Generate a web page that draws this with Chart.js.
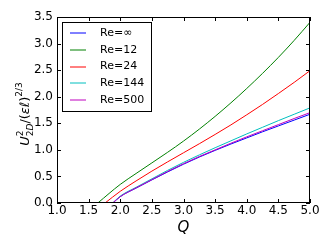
<!DOCTYPE html>
<html>
<head>
<meta charset="utf-8">
<script src="https://cdn.jsdelivr.net/npm/chart.js@4.4.0/dist/chart.umd.min.js"></script>
<style>
  html, body { margin: 0; padding: 0; background: #fff; }
  #wrap { width: 332px; height: 249px; position: relative; }
</style>
</head>
<body>
<div id="wrap"><canvas id="u2d__chart"></canvas></div>
<script>
// Reynolds numbers shown in the legend
const reLabels = ['Re=\u221e', 'Re=12', 'Re=24', 'Re=144', 'Re=500'];
const reColors = ['#0000ff', '#008000', '#ff0000', '#00bfbf', '#bf00bf'];

// Q where each curve leaves zero, then a common Q grid
const qStart = [1.885, 1.645, 1.76, 1.88, 1.88];
const qGrid = [2.0, 2.25, 2.5, 2.75, 3.0, 3.25, 3.5, 3.75, 4.0, 4.25, 4.5, 4.75, 5.0];

// U^2_2D / (eps l)^(2/3) at qGrid
const uInf = [0.12, 0.28, 0.435, 0.585, 0.73, 0.865, 0.99, 1.11, 1.225, 1.34, 1.45, 1.56, 1.67];
const u12 = [0.35, 0.555, 0.755, 0.955, 1.165, 1.39, 1.63, 1.885, 2.155, 2.44, 2.74, 3.06, 3.40];
const u24 = [0.22, 0.415, 0.60, 0.775, 0.945, 1.115, 1.29, 1.47, 1.66, 1.855, 2.06, 2.27, 2.49];
const u144 = [0.13, 0.295, 0.455, 0.615, 0.765, 0.905, 1.04, 1.17, 1.30, 1.425, 1.55, 1.67, 1.79];
const u500 = [0.12, 0.285, 0.44, 0.595, 0.74, 0.875, 1.00, 1.125, 1.245, 1.36, 1.475, 1.59, 1.70];

const seriesValues = [uInf, u12, u24, u144, u500];

const xTicks = [1.0, 1.5, 2.0, 2.5, 3.0, 3.5, 4.0, 4.5, 5.0];
const yTicks = [0.0, 0.5, 1.0, 1.5, 2.0, 2.5, 3.0, 3.5];

function buildPoints(i) {
  const pts = [{ x: qStart[i], y: 0 }];
  qGrid.forEach((q, k) => pts.push({ x: q, y: seriesValues[i][k] }));
  return pts;
}

// frame, inward ticks, legend box and axis labels, matplotlib style
const framePlugin = {
  id: 'frame',
  afterDraw(chart) {
    const c = chart.ctx;
    const a = chart.chartArea;
    const scales = chart.scales;
    c.save();
    c.strokeStyle = '#000';
    c.lineWidth = 1;
    c.strokeRect(a.left + 0.5, a.top + 0.5, a.right - a.left - 1, a.bottom - a.top - 1);

    c.beginPath();
    xTicks.forEach(v => {
      const px = Math.round(scales.x.getPixelForValue(v)) + 0.5;
      c.moveTo(px, a.bottom); c.lineTo(px, a.bottom - 4);
      c.moveTo(px, a.top); c.lineTo(px, a.top + 4);
    });
    yTicks.forEach(v => {
      const py = Math.round(scales.y.getPixelForValue(v)) + 0.5;
      c.moveTo(a.left, py); c.lineTo(a.left + 4, py);
      c.moveTo(a.right, py); c.lineTo(a.right - 4, py);
    });
    c.stroke();

    // legend
    const lx = a.left + 5, ly = a.top + 5, lw = 89, lh = 89;
    c.fillStyle = '#fff';
    c.fillRect(lx, ly, lw, lh);
    c.strokeStyle = '#000';
    c.strokeRect(lx + 0.5, ly + 0.5, lw, lh);
    c.font = '11px "DejaVu Sans"';
    c.textBaseline = 'middle';
    for (let i = 0; i < reLabels.length; i++) {
      const ry = ly + 11 + i * 16.8;
      c.beginPath();
      c.strokeStyle = reColors[i];
      c.lineWidth = 1;
      c.moveTo(lx + 8, Math.round(ry));
      c.lineTo(lx + 24, Math.round(ry));
      c.stroke();
      c.fillStyle = '#000';
      c.fillText(reLabels[i], lx + 38, ry);
    }

    // x label
    c.fillStyle = '#000';
    c.font = 'italic 15px "DejaVu Sans"';
    c.textAlign = 'center';
    c.textBaseline = 'alphabetic';
    c.fillText('Q', (a.left + a.right) / 2, 232);

    // y label: U^2_2D / (eps l)^(2/3)
    const big = 'italic 13px "DejaVu Sans"';
    const bigUp = '13px "DejaVu Sans"';
    const small = '9px "DejaVu Sans"';
    const smallIt = 'italic 9px "DejaVu Sans"';
    const parts = [
      { t: 'U', f: big, dy: 0 },
      { stack: [{ t: '2', f: small, dy: -6 }, { t: '2', f: small, dy: 3.5, next: { t: 'D', f: smallIt } }] },
      { t: '/', f: bigUp, dy: 0 },
      { t: '(', f: bigUp, dy: 0 },
      { t: '\u03b5', f: big, dy: 0 },
      { t: '\u2113', f: big, dy: 0 },
      { t: ')', f: bigUp, dy: 0 },
      { t: '2/3', f: small, dy: -7 }
    ];
    function w(t, f) { c.font = f; return c.measureText(t).width; }
    let total = 0;
    parts.forEach(p => {
      if (p.stack) {
        p.width = Math.max(...p.stack.map(s => w(s.t, s.f) + (s.next ? w(s.next.t, s.next.f) : 0)));
      } else {
        p.width = w(p.t, p.f);
      }
      total += p.width;
    });
    c.translate(29, 114);
    c.rotate(-Math.PI / 2);
    c.textAlign = 'left';
    let cx = -total / 2;
    parts.forEach(p => {
      if (p.stack) {
        p.stack.forEach(s => {
          c.font = s.f;
          c.fillText(s.t, cx, s.dy);
          if (s.next) {
            const sw = c.measureText(s.t).width;
            c.font = s.next.f;
            c.fillText(s.next.t, cx + sw, s.dy);
          }
        });
      } else {
        c.font = p.f;
        c.fillText(p.t, cx, p.dy);
      }
      cx += p.width;
    });
    c.restore();
  }
};

const ctx = document.getElementById('u2d__chart').getContext('2d');
const u2dChart = new Chart(ctx, {
  type: 'line',
  data: {
    datasets: reLabels.map((lab, i) => ({
      label: lab,
      data: buildPoints(i),
      borderColor: reColors[i],
      borderWidth: 1,
      pointRadius: 0,
      cubicInterpolationMode: 'monotone',
      fill: false,
      order: 5 - i
    }))
  },
  options: {
    responsive: true,
    maintainAspectRatio: false,
    animation: false,
    layout: { padding: { top: 17, right: 22, left: 0, bottom: 0 } },
    plugins: {
      legend: { display: false },
      tooltip: { enabled: false }
    },
    scales: {
      x: {
        type: 'linear',
        min: 1, max: 5,
        afterFit: (scale) => { scale.height = 46; },
        afterBuildTicks: (scale) => { scale.ticks = xTicks.map(v => ({ value: v })); },
        grid: { display: false, drawTicks: false, tickLength: 0 },
        border: { display: false },
        ticks: {
          autoSkip: false, maxRotation: 0, padding: 1, color: '#000',
          font: { family: 'DejaVu Sans', size: 12 },
          callback: (v) => Number(v).toFixed(1)
        }
      },
      y: {
        type: 'linear',
        min: 0, max: 3.5,
        afterFit: (scale) => { scale.width = 57; },
        afterBuildTicks: (scale) => { scale.ticks = yTicks.map(v => ({ value: v })); },
        grid: { display: false, drawTicks: false, tickLength: 0 },
        border: { display: false },
        ticks: {
          autoSkip: false, padding: 4, color: '#000',
          font: { family: 'DejaVu Sans', size: 12 },
          callback: (v) => Number(v).toFixed(1)
        }
      }
    }
  },
  plugins: [framePlugin]
});
</script>
</body>
</html>
